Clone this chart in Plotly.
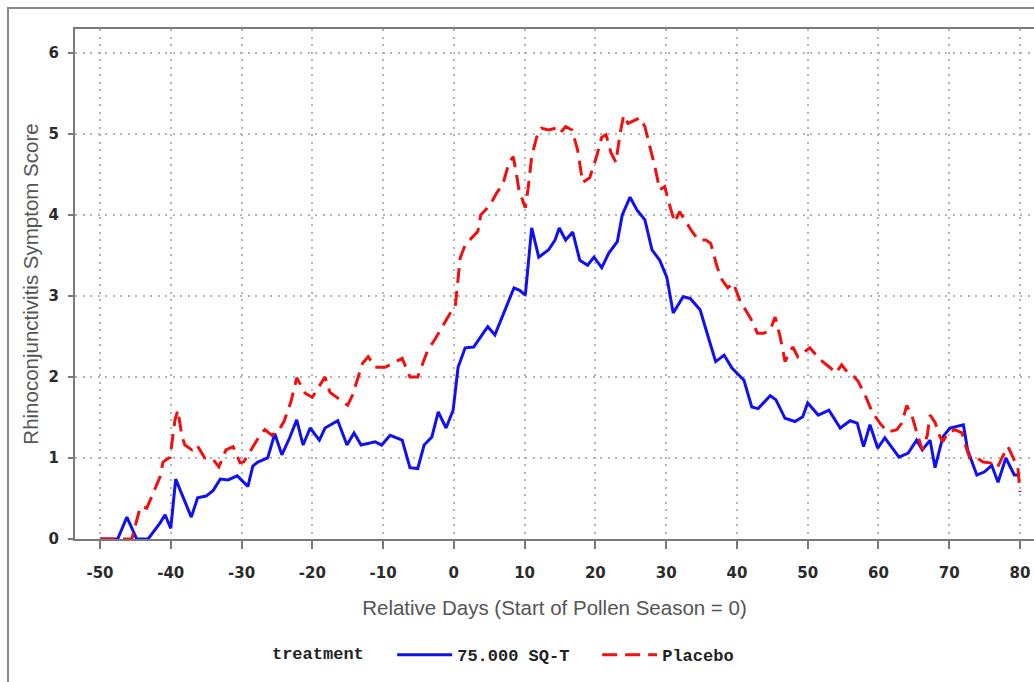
import plotly.graph_objects as go

# ---- data ----
blue_name = "75.000 SQ-T"
blue_days = [-50, -47.5, -46.2, -44.8, -43.2, -41.5, -40.8, -40.0, -39.3, -38.0, -37.1, -36.2, -35.0, -34.0,
             -33.0, -31.9, -30.6, -29.1, -28.4, -27.7, -26.3, -25.3, -24.3, -23.2, -22.2, -21.3, -20.3, -19.0,
             -18.2, -16.4, -15.1, -14.1, -13.1, -11.1, -10.2, -9.0, -7.3, -6.2, -5.1, -4.2, -3.1, -2.2, -1.1,
             -0.1, 0.6, 1.6, 2.8, 4.3, 4.8, 5.8, 6.8, 8.5, 9.3, 10.1, 11.0, 12.0, 13.4, 14.3, 14.9, 15.8, 16.8,
             17.8, 18.9, 19.8, 20.9, 21.9, 23.1, 23.8, 24.9, 25.9, 27.0, 28.0, 29.1, 30.1, 31.0, 32.4, 33.4,
             34.8, 36.2, 37.0, 38.2, 39.3, 41.0, 42.1, 43.0, 44.7, 45.5, 46.8, 48.2, 49.3, 50.0, 51.5, 53.0,
             54.6, 56.0, 57.0, 57.9, 58.8, 59.9, 60.9, 62.9, 64.2, 65.4, 66.2, 67.3, 68.0, 69.1, 70.1, 72.0,
             72.6, 73.9, 75.0, 76.0, 76.9, 78.0, 79.2, 80.0]
blue_vals = [0, 0, 0.27, 0, 0, 0.2, 0.3, 0.13, 0.74, 0.45, 0.27, 0.51, 0.53, 0.6,
             0.74, 0.73, 0.78, 0.65, 0.9, 0.95, 1.0, 1.3, 1.04, 1.25, 1.47, 1.16, 1.37, 1.22,
             1.37, 1.46, 1.16, 1.31, 1.16, 1.2, 1.16, 1.28, 1.22, 0.88, 0.87, 1.16, 1.26, 1.57, 1.37,
             1.59, 2.12, 2.36, 2.37, 2.56, 2.62, 2.52, 2.74, 3.1, 3.07, 3.01, 3.84, 3.48, 3.57, 3.69, 3.84, 3.69, 3.79,
             3.44, 3.38, 3.48, 3.35, 3.53, 3.67, 4.0, 4.22, 4.06, 3.94, 3.57, 3.44, 3.23, 2.79, 2.99, 2.97,
             2.83, 2.42, 2.19, 2.27, 2.11, 1.96, 1.63, 1.61, 1.77, 1.72, 1.49, 1.45, 1.51, 1.68, 1.53, 1.59,
             1.37, 1.46, 1.43, 1.14, 1.41, 1.12, 1.25, 1.01, 1.06, 1.22, 1.1, 1.22, 0.88, 1.26, 1.37, 1.41,
             1.1, 0.79, 0.83, 0.91, 0.7, 1.0, 0.79, 0.79]

red_name = "Placebo"
red_days = [-50, -45.5, -44.3, -43.4, -42.7, -41.5, -41.1, -40.1, -39.4, -39.0, -38.4, -38.0, -37.0, -36.3,
            -35.2, -34.0, -33.2, -32.2, -31.2, -30.2, -29.7, -28.7, -27.4, -26.7, -25.7, -24.7, -24.0, -23.0,
            -22.2, -21.0, -20.0, -18.2, -17.5, -16.1, -15.0, -14.3, -12.9, -12.1, -11.1, -9.7, -8.6, -7.3,
            -6.2, -5.1, -3.7, -2.7, -1.5, -0.5, 0.2, 0.6, 0.9, 1.6, 2.6, 3.4, 3.8, 5.1, 6.1, 6.9, 7.8, 8.4,
            8.8, 9.2, 10.1, 10.5, 11.0, 11.7, 12.4, 13.4, 14.4, 15.0, 15.8, 16.7, 17.5, 18.2, 19.2, 20.1,
            20.9, 21.5, 22.2, 22.9, 23.5, 24.0, 24.6, 25.5, 26.3, 27.0, 27.7, 28.4, 29.1, 29.8, 30.5, 31.2,
            31.9, 32.9, 33.7, 34.6, 35.6, 36.3, 37.2, 37.9, 38.7, 39.5, 40.4, 41.2, 41.9, 42.9, 43.8, 44.7,
            45.4, 46.1, 46.8, 47.4, 47.9, 48.6, 49.5, 50.3, 51.2, 52.1, 53.1, 54.0, 54.8, 55.7, 56.4, 57.1,
            58.1, 59.1, 60.2, 61.3, 62.6, 63.3, 64.0, 64.7, 65.4, 66.2, 66.9, 67.3, 68.0, 68.7, 69.1, 69.8,
            70.8, 71.8, 72.5, 72.9, 73.9, 74.8, 75.8, 76.8, 77.5, 78.3, 79.0, 79.7, 80.0]
red_vals = [0, 0, 0.4, 0.38, 0.52, 0.77, 0.95, 1.01, 1.47, 1.59, 1.26, 1.16, 1.1, 1.16,
            1.0, 0.98, 0.89, 1.1, 1.14, 0.94, 0.95, 1.1, 1.28, 1.35, 1.28, 1.35, 1.45, 1.7,
            1.99, 1.8, 1.75, 2.0, 1.81, 1.72, 1.65, 1.78, 2.17, 2.25, 2.12, 2.12, 2.17, 2.23,
            2.0, 2.0, 2.33, 2.46, 2.64, 2.79, 2.87, 3.17, 3.47, 3.63, 3.72, 3.8, 4.0, 4.12, 4.28, 4.37, 4.65, 4.72,
            4.53, 4.31, 4.09, 4.33, 4.72, 4.96, 5.07, 5.05, 5.07, 5.01, 5.09, 5.05, 4.8, 4.4, 4.46, 4.7,
            4.96, 4.99, 4.77, 4.65, 5.01, 5.23, 5.13, 5.17, 5.2, 5.09, 4.84, 4.6, 4.31, 4.35, 4.12, 3.91,
            4.04, 3.91, 3.79, 3.69, 3.69, 3.65, 3.36, 3.2, 3.1, 3.16, 2.95, 2.83, 2.73, 2.54, 2.54, 2.58,
            2.74, 2.5, 2.19, 2.3, 2.37, 2.25, 2.31, 2.36, 2.27, 2.19, 2.12, 2.05, 2.15, 2.05, 2.02, 1.95,
            1.78, 1.57, 1.43, 1.32, 1.35, 1.43, 1.65, 1.53, 1.32, 1.1, 1.28, 1.53, 1.44, 1.26, 1.2, 1.31,
            1.35, 1.31, 1.1, 1.0, 1.0, 0.95, 0.94, 0.88, 1.01, 1.14, 1.01, 0.88, 0.58]

x_ticks = list(range(-50, 81, 10))
y_ticks = [0, 1, 2, 3, 4, 5, 6]

x_title = "Relative Days (Start of Pollen Season = 0)"
y_title = "Rhinoconjunctivitis Symptom Score"
legend_title = "treatment"

# ---- figure ----
W, H = 1034, 682
L, R, T, B = 75, 0, 29, 143

fig = go.Figure()
fig.add_trace(go.Scatter(x=blue_days, y=blue_vals, mode="lines", name=blue_name,
                         line=dict(color="#1010f0", width=3), cliponaxis=False))
fig.add_trace(go.Scatter(x=red_days, y=red_vals, mode="lines", name=red_name,
                         line=dict(color="#f01010", width=3, dash="15px,8px"), cliponaxis=False))

tick_font = dict(family="DejaVu Sans", size=15, color="#2a2a2a", weight="bold")
title_font = dict(family="Liberation Sans", size=20.5, color="#555555")
legend_font = dict(family="Liberation Mono", size=17, color="#222222", weight="bold")
grid_col = "#b5b5b5"

fig.update_layout(
    width=W, height=H,
    margin=dict(l=L, r=R, t=T, b=B, pad=0),
    paper_bgcolor="white", plot_bgcolor="white",
    showlegend=True,
    legend=dict(orientation="h", x=0.2033, xanchor="left", y=-0.228, yanchor="middle",
                title=dict(text=legend_title + "\u00a0" * 2, side="left", font=legend_font),
                font=legend_font, itemwidth=55, entrywidth=135, entrywidthmode="pixels",
                bgcolor="rgba(0,0,0,0)"),
    xaxis=dict(range=[-53.53, 81.98], tickvals=x_ticks, ticktext=[str(v) for v in x_ticks],
               showgrid=True, gridcolor=grid_col, gridwidth=2, griddash="2px,5.5px",
               showline=True, linecolor="#7a7a7a", linewidth=2, mirror=True,
               ticks="outside", ticklen=8, tickwidth=2, tickcolor="#7a7a7a",
               tickfont=tick_font, ticklabelstandoff=11, zeroline=False,
               title=dict(text=x_title, font=title_font, standoff=20), automargin=False),
    yaxis=dict(range=[0, 6.296], tickvals=y_ticks, ticktext=[str(v) for v in y_ticks],
               showgrid=True, gridcolor=grid_col, gridwidth=2, griddash="2px,5.5px",
               showline=True, linecolor="#7a7a7a", linewidth=2, mirror=False,
               ticks="outside", ticklen=5, tickwidth=2, tickcolor="#7a7a7a",
               tickfont=tick_font, ticklabelstandoff=6, zeroline=False,
               title=dict(text=y_title, font=title_font, standoff=4), automargin=False),
    shapes=[dict(type="rect", xref="paper", yref="paper",
                 x0=(8 - L) / (W - L - R), x1=1.05,
                 y0=-0.4, y1=(H - B - 8) / (H - T - B),
                 line=dict(color="#8a8a8a", width=2), layer="below")],
)

fig.write_html("out.html")
